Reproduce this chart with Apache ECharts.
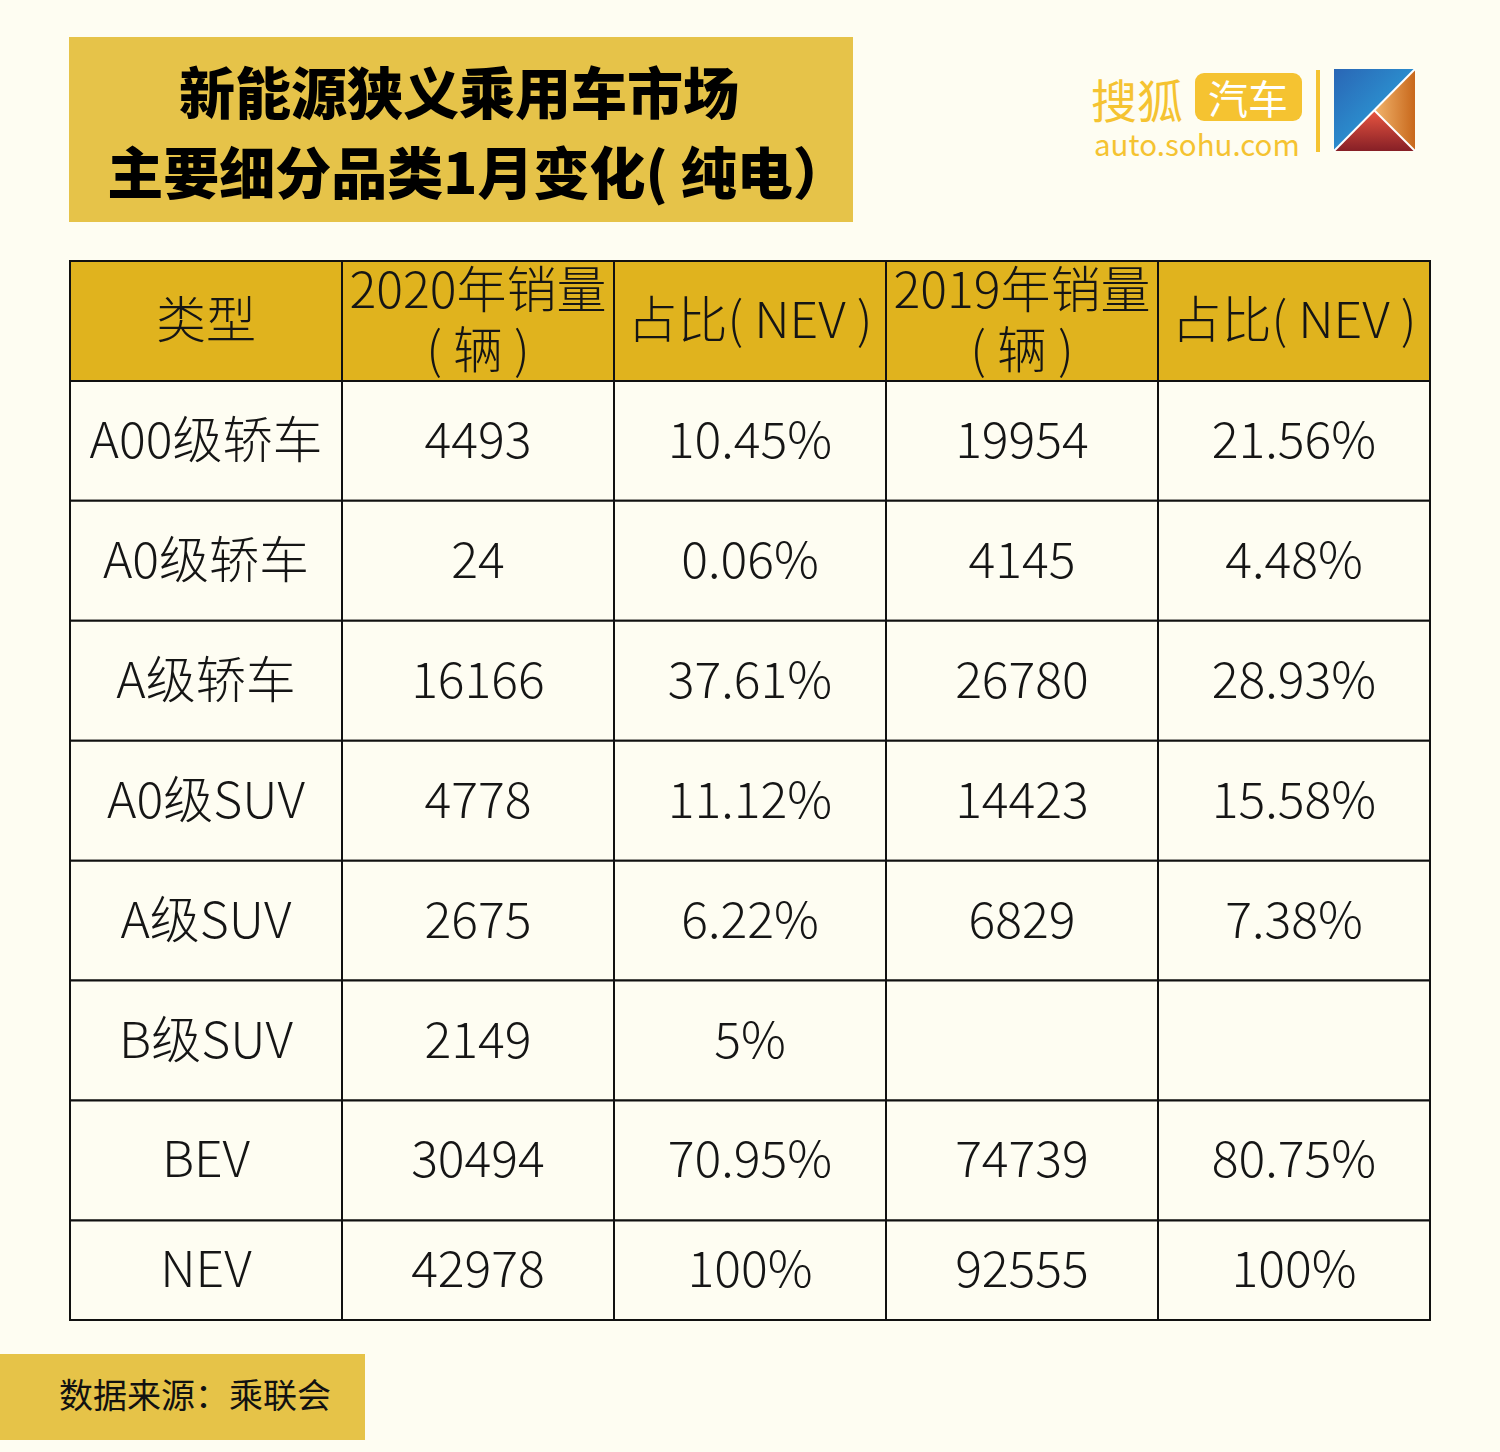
<!DOCTYPE html>
<html>
<head>
<meta charset="utf-8">
<script src="https://cdn.jsdelivr.net/npm/echarts/dist/echarts.min.js"></script>
<style>
  html, body { margin: 0; padding: 0; background: #fefdf2; }
  #chart { width: 1500px; height: 1452px; }
</style>
</head>
<body>
<div id="chart"></div>
<script>
// table data
const headers = ['类型', '2020年销量\n( 辆 )', '占比( NEV )', '2019年销量\n( 辆 )', '占比( NEV )'];
const categories = ['A00级轿车', 'A0级轿车', 'A级轿车', 'A0级SUV', 'A级SUV', 'B级SUV', 'BEV', 'NEV'];
const sales2020 = [4493, 24, 16166, 4778, 2675, 2149, 30494, 42978];
const share2020 = ['10.45%', '0.06%', '37.61%', '11.12%', '6.22%', '5%', '70.95%', '100%'];
const sales2019 = [19954, 4145, 26780, 14423, 6829, null, 74739, 92555];
const share2019 = ['21.56%', '4.48%', '28.93%', '15.58%', '7.38%', '', '80.75%', '100%'];

const FONT = '"Noto Sans CJK SC", "Noto Sans", sans-serif';
const HEAD_FILL = '#e0b31e';
const CELL_FILL = '#fefdf2';
const GOLD = '#f5c331';

// build cells: row 0 is the header
const cells = [];
headers.forEach((h, c) => cells.push({ value: [c, 0], text: h }));
categories.forEach((cat, i) => {
  const row = [cat, sales2020[i], share2020[i], sales2019[i], share2019[i]];
  row.forEach((v, c) => cells.push({ value: [c, i + 1], text: v == null ? '' : String(v) }));
});

let chart = echarts.init(document.getElementById('chart'), null, { renderer: 'svg' });

let option = {
  backgroundColor: '#fefdf2',
  animation: false,
  grid: { left: 70, right: 70, top: 261, bottom: 132, show: true, borderColor: '#111', borderWidth: 2, backgroundColor: 'transparent' },
  xAxis: { type: 'category', data: headers, show: false },
  // last row is shorter than the others, so the axis ends part way into it
  yAxis: { type: 'value', min: 0, max: 8.83, inverse: true, show: false, splitLine: { show: false } },
  series: [{
    type: 'custom',
    data: cells,
    clip: true,
    renderItem: function (params, api) {
      const c = api.value(0), r = api.value(1);
      const top = api.coord([c, r]);
      const next = api.coord([c, r + 1]);
      const w = api.size([1, 0])[0];
      const gridBottom = params.coordSys.y + params.coordSys.height;
      const bottom = Math.min(next[1], gridBottom);
      const cell = cells[params.dataIndex];
      return {
        type: 'group',
        children: [{
          type: 'rect',
          shape: { x: top[0] - w / 2, y: top[1], width: w, height: bottom - top[1] },
          style: { fill: r === 0 ? HEAD_FILL : CELL_FILL, stroke: '#111', lineWidth: 2 }
        }, {
          type: 'text',
          style: {
            text: cell.text,
            x: top[0], y: (top[1] + bottom) / 2 - 5,
            align: 'center', verticalAlign: 'middle',
            fontSize: 50, fontFamily: FONT, fontWeight: 300,
            lineHeight: 60,
            fill: '#151515'
          }
        }]
      };
    }
  }],
  graphic: [
    // title block
    { type: 'rect', shape: { x: 69, y: 37, width: 784, height: 185 }, style: { fill: '#e6c349' } },
    { type: 'text', x: 459, y: 89, style: { text: '新能源狭义乘用车市场', align: 'center', verticalAlign: 'middle',
      fontSize: 56, fontWeight: 900, fontFamily: FONT, fill: '#000' } },
    { type: 'text', x: 478, y: 169, style: { text: '主要细分品类1月变化( 纯电）', align: 'center', verticalAlign: 'middle',
      fontSize: 56, fontWeight: 900, fontFamily: FONT, fill: '#000' } },

    // logo
    { type: 'text', x: 1091, y: 98, style: { text: '搜狐', verticalAlign: 'middle', fontSize: 46, fontFamily: FONT, fill: GOLD } },
    { type: 'rect', shape: { x: 1195, y: 73, width: 107, height: 48, r: 9 }, style: { fill: GOLD } },
    { type: 'text', x: 1248, y: 97, style: { text: '汽车', align: 'center', verticalAlign: 'middle', fontSize: 40, fontFamily: FONT, fill: '#fff' } },
    { type: 'text', x: 1094, y: 143, style: { text: 'auto.sohu.com', verticalAlign: 'middle', fontSize: 29.5, fontFamily: FONT, fill: GOLD } },
    { type: 'rect', shape: { x: 1316, y: 70, width: 4, height: 82 }, style: { fill: GOLD } },
    { type: 'group', children: [
      { type: 'polygon', shape: { points: [[1334, 69], [1415, 69], [1334, 151]] },
        style: { fill: new echarts.graphic.LinearGradient(0, 0, 1, 1, [{ offset: 0, color: '#2a66b5' }, { offset: 0.5, color: '#2b8bcc' }, { offset: 1, color: '#35b3bd' }]) } },
      { type: 'polygon', shape: { points: [[1415, 69], [1415, 151], [1374, 110]] },
        style: { fill: new echarts.graphic.LinearGradient(0, 0, 1, 0, [{ offset: 0, color: '#f2b56e' }, { offset: 1, color: '#c8681b' }]) } },
      { type: 'polygon', shape: { points: [[1374, 110], [1334, 151], [1415, 151]] },
        style: { fill: new echarts.graphic.LinearGradient(0, 0, 0, 1, [{ offset: 0, color: '#ea5641' }, { offset: 1, color: '#861f26' }]) } },
      { type: 'polyline', shape: { points: [[1415, 69], [1334, 151]] }, style: { stroke: '#fff', lineWidth: 2 } },
      { type: 'polyline', shape: { points: [[1374, 110], [1415, 151]] }, style: { stroke: '#fff', lineWidth: 2 } }
    ] },

    // source footer
    { type: 'rect', shape: { x: 0, y: 1354, width: 365, height: 86 }, style: { fill: '#e6c348' } },
    { type: 'text', x: 195, y: 1393, style: { text: '数据来源：乘联会', align: 'center', verticalAlign: 'middle',
      fontSize: 34, fontFamily: FONT, fill: '#111' } }
  ]
};

chart.setOption(option);
</script>
</body>
</html>
